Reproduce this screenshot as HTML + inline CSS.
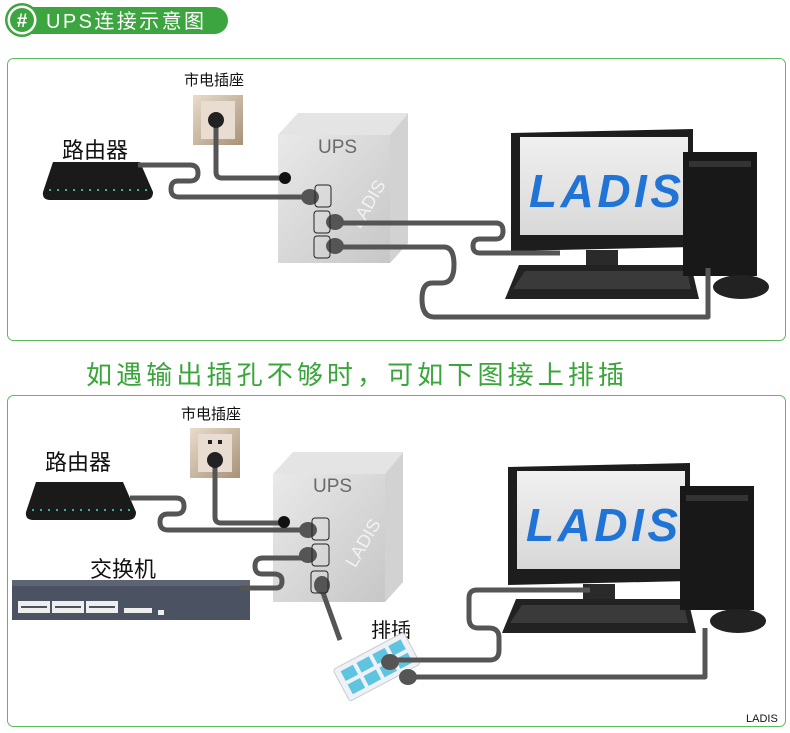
<!DOCTYPE html>
<html><head><meta charset="utf-8"><style>
html,body{margin:0;padding:0;background:#fff}
svg{display:block}
text{font-family:"Liberation Sans","Noto Sans CJK SC",sans-serif}
</style></head><body>
<svg width="790" height="733" viewBox="0 0 790 733" xmlns="http://www.w3.org/2000/svg">
<defs>
<linearGradient id="upsg" x1="0" y1="0" x2="1" y2="1"><stop offset="0" stop-color="#ececec"/><stop offset="1" stop-color="#c4c4c4"/></linearGradient>
<linearGradient id="sock" x1="0" y1="0" x2="1" y2="1"><stop offset="0" stop-color="#e8dccb"/><stop offset="1" stop-color="#a89278"/></linearGradient>
<linearGradient id="scr" x1="0" y1="0" x2="0" y2="1"><stop offset="0" stop-color="#f0f0f0"/><stop offset="1" stop-color="#d8d8d8"/></linearGradient>
<g id="upsbox">
  <path d="M0,22 L20,0 H130 V130 L112,150 H0 Z" fill="url(#upsg)"/>
  <path d="M112,22 L130,2 V130 L112,150 Z" fill="#d2d2d2"/>
  <path d="M0,22 L20,0 H130 L112,22 Z" fill="#e4e4e4"/>
  <text x="40" y="40" font-size="19" fill="#6a6a6a">UPS</text>
  <text x="60" y="112" font-size="18" fill="#f2f2f2" transform="rotate(-60 75 95)">LADIS</text>
</g>
<g id="mon">
  <path d="M0,4 L182,0 V118 L0,122 Z" fill="#1d1d1d"/>
  <rect x="9" y="8" width="168" height="98" fill="url(#scr)"/>
  <text x="18" y="78" font-size="46" font-weight="bold" font-style="italic" fill="#1f74d6" textLength="152">LADIS</text>
  <rect x="75" y="121" width="32" height="15" fill="#2a2a2a"/>
  <path d="M8,136 H180 L188,170 H-6 Z" fill="#222"/>
  <path d="M14,142 H176 L180,160 H2 Z" fill="#3a3a3a"/>
  <rect x="172" y="23" width="74" height="124" fill="#181818"/>
  <rect x="178" y="32" width="62" height="6" fill="#333"/>
  <ellipse cx="230" cy="158" rx="28" ry="12" fill="#222"/>
</g>
<g id="router">
  <path d="M8,0 H95 L108,30 Q108,38 100,38 H5 Q-3,38 -2,30 Z" fill="#1a1a1a"/>
  <path d="M4,28 H104" stroke="#2fb39a" stroke-width="2" stroke-dasharray="2 6"/>
</g>
</defs>

<!-- header badge -->
<rect x="8" y="7" width="220" height="27" rx="13.5" fill="#3da540"/>
<circle cx="22" cy="20" r="17" fill="#3da540"/>
<circle cx="22" cy="20" r="14.5" fill="#fff"/>
<circle cx="22" cy="20" r="12" fill="#3da540"/>
<text x="22" y="27" font-size="19" font-weight="bold" fill="#fff" text-anchor="middle">#</text>
<text x="46" y="28" font-size="20" fill="#fff" textLength="158">UPS连接示意图</text>

<!-- panels -->
<rect x="7.5" y="58.5" width="778" height="282" rx="6" fill="#fff" stroke="#5cbb5c"/>
<rect x="7.5" y="395.5" width="778" height="331" rx="6" fill="#fff" stroke="#5cbb5c"/>
<text x="86" y="384" font-size="26" fill="#3aa53a" textLength="538">如遇输出插孔不够时，可如下图接上排插</text>
<text x="746" y="722" font-size="11" fill="#111">LADIS</text>

<!-- ===== Panel 1 ===== -->
<text x="184" y="85" font-size="15" fill="#111">市电插座</text>
<rect x="193" y="95" width="50" height="50" fill="url(#sock)"/>
<rect x="201" y="101" width="34" height="38" fill="#e8ddd0"/>
<text x="62" y="158" font-size="22" fill="#111">路由器</text>
<use href="#router" x="45" y="162"/>
<use href="#upsbox" x="278" y="113"/>
<use href="#mon" x="511" y="129"/>
<g fill="none" stroke="#555" stroke-width="5" stroke-linejoin="round">
  <path d="M216,125 V172 q0,6 6,6 H285"/>
  <path d="M138,165 H190 q8,0 8,8 q0,8 -8,8 H178 q-7,0 -7,8 q0,8 8,8 H310"/>
  <path d="M335,223 H496 q7,0 7,8 q0,8 -7,8 H480 q-7,0 -7,7 q0,7 7,7 H560"/>
  <path d="M335,247 H444 q10,0 10,18 q0,18 -12,18 H432 q-10,0 -10,16 q0,18 12,18 H708 V268"/>
</g>
<circle cx="216" cy="120" r="8" fill="#222"/>
<circle cx="285" cy="178" r="6" fill="#111"/>
<g fill="#555"><ellipse cx="310" cy="197" rx="9" ry="8"/><ellipse cx="335" cy="222" rx="9" ry="8"/><ellipse cx="335" cy="246" rx="9" ry="8"/></g>
<g fill="none" stroke="#222" stroke-width="1"><rect x="315" y="185" width="16" height="22" rx="3"/><rect x="314" y="211" width="16" height="22" rx="3"/><rect x="314" y="236" width="16" height="22" rx="3"/></g>

<!-- ===== Panel 2 ===== -->
<text x="181" y="419" font-size="15" fill="#111">市电插座</text>
<rect x="190" y="428" width="50" height="50" fill="url(#sock)"/>
<rect x="198" y="434" width="34" height="38" fill="#e8ddd0"/>
<rect x="208" y="440" width="4" height="4" fill="#222"/><rect x="218" y="440" width="4" height="4" fill="#222"/>
<text x="45" y="470" font-size="22" fill="#111">路由器</text>
<use href="#router" x="28" y="482"/>
<use href="#upsbox" x="273" y="452"/>
<text x="90" y="577" font-size="22" fill="#111">交换机</text>
<rect x="12" y="580" width="238" height="40" fill="#4b5262"/>
<rect x="12" y="580" width="238" height="6" fill="#5d6474"/>
<g fill="#eee"><rect x="18" y="601" width="32" height="12"/><rect x="52" y="601" width="32" height="12"/><rect x="86" y="601" width="32" height="12"/><rect x="124" y="608" width="28" height="5"/><rect x="158" y="610" width="6" height="5"/></g>
<g fill="#4b5262"><rect x="21" y="606" width="26" height="2"/><rect x="55" y="606" width="26" height="2"/><rect x="89" y="606" width="26" height="2"/></g>
<use href="#mon" x="508" y="463"/>
<text x="371" y="637" font-size="20" fill="#111">排插</text>
<g transform="rotate(-28 375 670)">
  <rect x="338" y="650" width="80" height="36" rx="3" fill="#eef2f6" stroke="#c7ccd2"/>
  <g fill="#5fc4e0"><rect x="344" y="655" width="14" height="11"/><rect x="362" y="655" width="14" height="11"/><rect x="380" y="655" width="14" height="11"/><rect x="398" y="655" width="14" height="11"/><rect x="344" y="670" width="14" height="11"/><rect x="362" y="670" width="14" height="11"/><rect x="380" y="670" width="14" height="11"/><rect x="398" y="670" width="14" height="11"/></g>
</g>
<g fill="none" stroke="#555" stroke-width="5" stroke-linejoin="round">
  <path d="M215,465 V517 q0,6 6,6 H284"/>
  <path d="M130,498 H176 q8,0 8,8 q0,8 -8,8 H168 q-8,0 -8,8 q0,8 8,8 H308"/>
  <path d="M240,588 H276 q6,0 6,-7 q0,-7 -8,-7 H262 q-7,0 -7,-8 q0,-8 8,-8 H308"/>
  <path d="M322,590 L340,640"/>
  <path d="M395,660 H490 q9,0 9,-10 V638 q0,-10 -10,-10 H478 q-9,0 -9,-10 V598 q0,-8 8,-8 H590"/>
  <path d="M410,677 H705 V628"/>
</g>
<circle cx="215" cy="460" r="8" fill="#222"/>
<circle cx="284" cy="522" r="6" fill="#111"/>
<g fill="#555"><ellipse cx="308" cy="530" rx="9" ry="8"/><ellipse cx="308" cy="555" rx="9" ry="8"/><ellipse cx="322" cy="585" rx="8" ry="9"/><ellipse cx="390" cy="662" rx="9" ry="8"/><ellipse cx="408" cy="677" rx="9" ry="8"/></g>
<g fill="none" stroke="#222" stroke-width="1"><rect x="312" y="518" width="17" height="22" rx="3"/><rect x="312" y="544" width="17" height="22" rx="3"/><rect x="311" y="571" width="17" height="22" rx="3"/></g>
</svg>
</body></html>
